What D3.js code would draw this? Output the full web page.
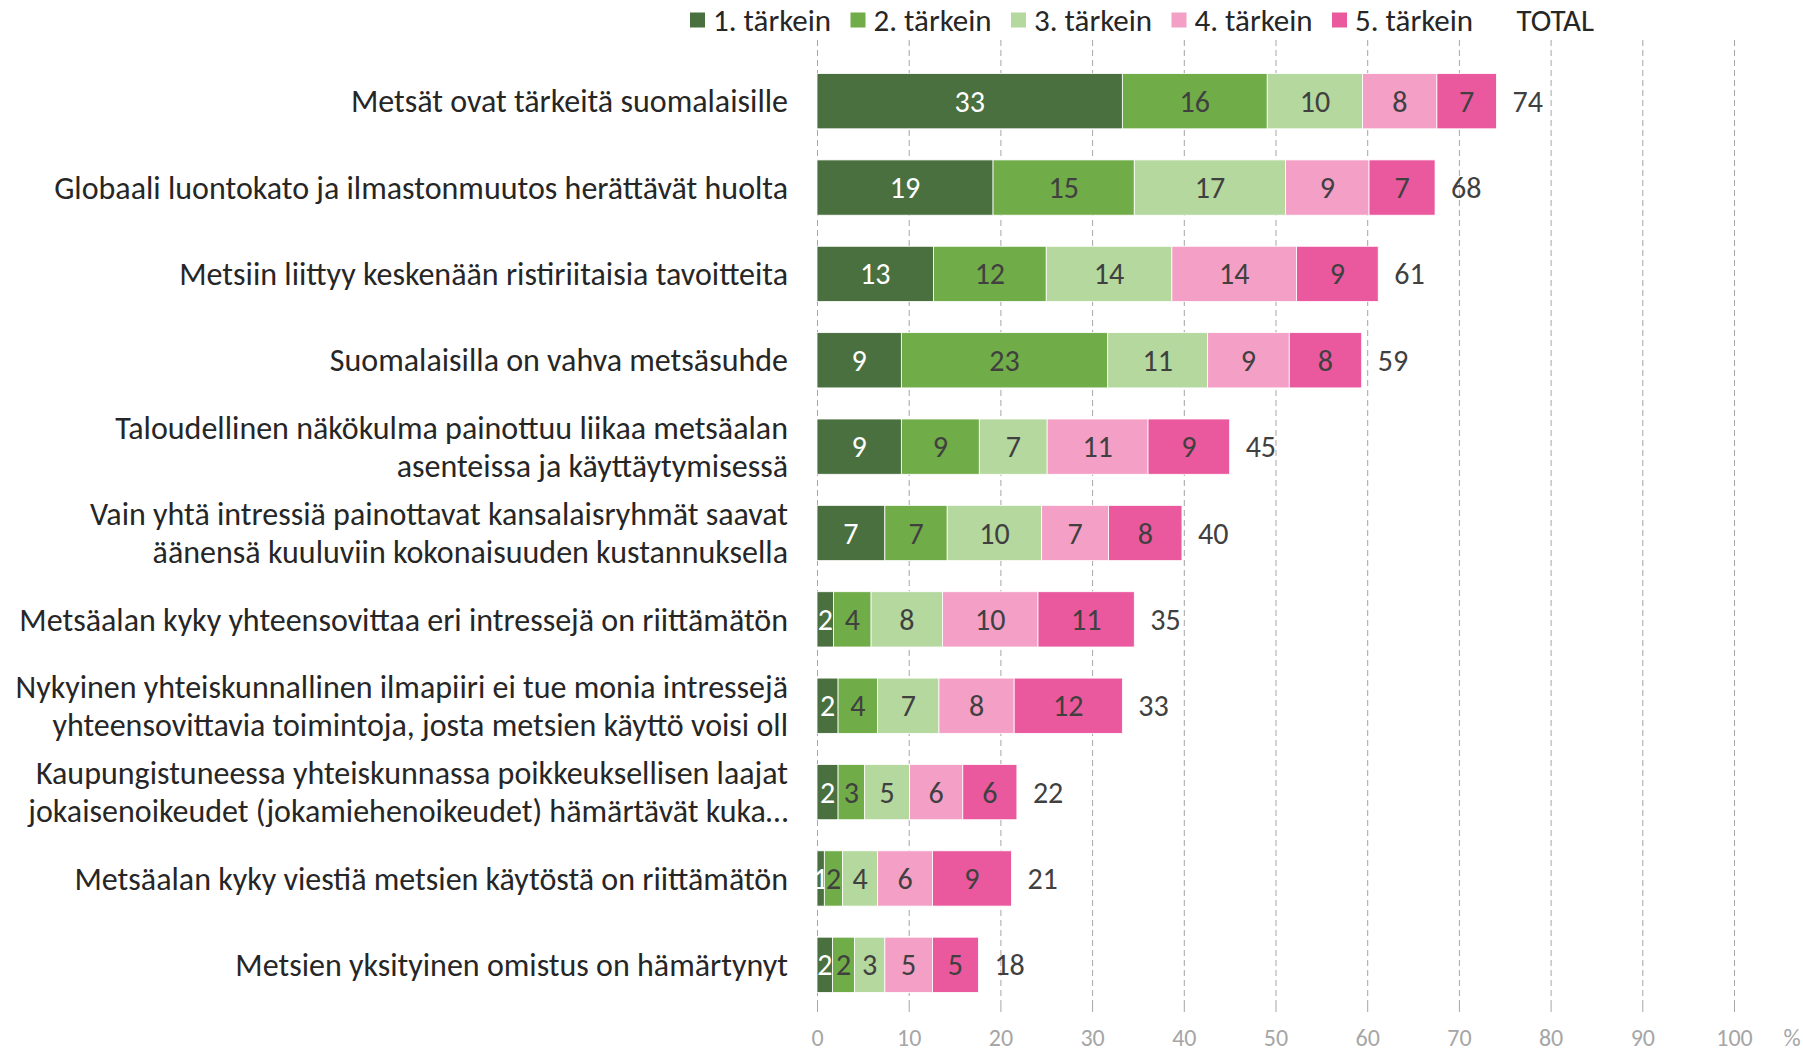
<!DOCTYPE html>
<html>
<head>
<meta charset="utf-8">
<script src="https://cdn.jsdelivr.net/npm/d3@7"></script>
<style>
  body { margin: 0; background: #fff; }
  svg { font-family: Calibri, Carlito, Lato, sans-serif; }
</style>
</head>
<body>
<div id="chart-area"></div>
<script>
// categories (line breaks as in the original)
var categories = [
  "Metsät ovat tärkeitä suomalaisille",
  "Globaali luontokato ja ilmastonmuutos herättävät huolta",
  "Metsiin liittyy keskenään ristiriitaisia tavoitteita",
  "Suomalaisilla on vahva metsäsuhde",
  "Taloudellinen näkökulma painottuu liikaa metsäalan\nasenteissa ja käyttäytymisessä",
  "Vain yhtä intressiä painottavat kansalaisryhmät saavat\näänensä kuuluviin kokonaisuuden kustannuksella",
  "Metsäalan kyky yhteensovittaa eri intressejä on riittämätön",
  "Nykyinen yhteiskunnallinen ilmapiiri ei tue monia intressejä\nyhteensovittavia toimintoja, josta metsien käyttö voisi oll",
  "Kaupungistuneessa yhteiskunnassa poikkeuksellisen laajat\njokaisenoikeudet (jokamiehenoikeudet) hämärtävät kuka…",
  "Metsäalan kyky viestiä metsien käytöstä on riittämätön",
  "Metsien yksityinen omistus on hämärtynyt"
];

var seriesNames = ["1. tärkein", "2. tärkein", "3. tärkein", "4. tärkein", "5. tärkein"];
var seriesColors = ["#4a7040", "#70ac47", "#b4d89e", "#f49fc6", "#ea589d"];

var s1 = [33.3, 19.2, 12.7, 9.2, 9.2, 7.4, 1.8, 2.3, 2.3, 0.8, 1.7];
var s2 = [15.8, 15.4, 12.3, 22.5, 8.5, 6.8, 4.1, 4.3, 2.9, 2.0, 2.4];
var s3 = [10.4, 16.5, 13.7, 10.9, 7.4, 10.3, 7.8, 6.7, 4.9, 3.8, 3.3];
var s4 = [8.1, 9.1, 13.6, 8.9, 11.0, 7.3, 10.4, 8.2, 5.8, 6.0, 5.2];
var s5 = [6.5, 7.2, 8.9, 7.9, 8.9, 8.0, 10.5, 11.8, 5.9, 8.6, 5.0];
var totals = [74, 68, 61, 59, 45, 40, 35, 33, 22, 21, 18];

var xTicks = [0, 10, 20, 30, 40, 50, 60, 70, 80, 90, 100];

var width = 1803, height = 1053;

var svg = d3.select("#chart-area")
  .append("svg")
    .attr("width", width)
    .attr("height", height);

var x = d3.scaleLinear().domain([0, 100]).range([817, 1734]);
var y = d3.scaleBand()
    .domain(categories)
    .range([58, 1008])
    .paddingInner(0.36)
    .paddingOuter(0.18);

// dashed gridlines
svg.append("g")
  .selectAll("line")
  .data(xTicks)
  .enter().append("line")
    .attr("x1", d => x(d) + 0.5)
    .attr("x2", d => x(d) + 0.5)
    .attr("y1", 40)
    .attr("y2", 1008)
    .attr("stroke", "#a6a6a6")
    .attr("stroke-width", 1)
    .attr("stroke-dasharray", "6,4");

// x axis (ticks + labels)
var xAxisCall = d3.axisBottom(x)
    .tickValues(xTicks)
    .tickSize(6)
    .tickPadding(17)
    .tickFormat(d3.format("d"));
var xAxis = svg.append("g")
    .attr("transform", "translate(0,1006)")
    .call(xAxisCall);
xAxis.select(".domain").remove();
xAxis.selectAll("line").attr("stroke", "#a6a6a6");
xAxis.selectAll("text")
    .attr("fill", "#a6a6a6")
    .attr("font-size", "24px")
    .attr("font-family", "Calibri, Carlito, Lato, sans-serif");
svg.append("text")
    .attr("x", x(100) + 58)
    .attr("y", 1046)
    .attr("fill", "#a6a6a6")
    .attr("font-size", "24px")
    .attr("text-anchor", "middle")
    .text("%");

// stacked bars
var seriesData = [s1, s2, s3, s4, s5];
var rows = categories.map((c, i) => {
  var r = { cat: c };
  seriesData.forEach((s, k) => { r["s" + k] = s[i]; });
  return r;
});
var stack = d3.stack().keys(seriesNames.map((d, k) => "s" + k));
var stacked = stack(rows);

var groups = svg.append("g")
  .selectAll("g")
  .data(stacked)
  .enter().append("g")
    .attr("fill", (d, k) => seriesColors[k]);

groups.selectAll("rect")
  .data(d => d)
  .enter().append("rect")
    .attr("x", d => x(d[0]))
    .attr("y", d => y(d.data.cat))
    .attr("width", d => x(d[1]) - x(d[0]))
    .attr("height", y.bandwidth())
    .attr("stroke", "#ffffff")
    .attr("stroke-width", 0.8);

// value labels inside segments
groups.each(function(ser, k) {
  d3.select(this).selectAll("text")
    .data(ser)
    .enter().append("text")
      .attr("x", d => (x(d[0]) + x(d[1])) / 2)
      .attr("y", d => y(d.data.cat) + y.bandwidth() / 2)
      .attr("dy", "0.35em")
      .attr("text-anchor", "middle")
      .attr("font-size", "30px")
      .attr("fill", k === 0 ? "#ffffff" : "#404040")
      .text(d => Math.round(d[1] - d[0]));
});

// totals
svg.append("g")
  .selectAll("text")
  .data(categories)
  .enter().append("text")
    .attr("x", (c, i) => x(stacked[4][i][1]) + 16)
    .attr("y", c => y(c) + y.bandwidth() / 2)
    .attr("dy", "0.35em")
    .attr("font-size", "30px")
    .attr("fill", "#404040")
    .text((c, i) => totals[i]);

// category labels
var catLabels = svg.append("g")
  .selectAll("text")
  .data(categories)
  .enter().append("text")
    .attr("text-anchor", "end")
    .attr("font-size", "32px")
    .attr("fill", "#262626")
    .attr("transform", c => "translate(788," + (y(c) + y.bandwidth() / 2) + ")");

catLabels.each(function(c) {
  var lines = c.split("\n");
  var el = d3.select(this);
  lines.forEach((ln, j) => {
    el.append("tspan")
      .attr("x", 0)
      .attr("y", (j - (lines.length - 1) / 2) * 38)
      .attr("dy", "0.35em")
      .text(ln);
  });
});

// legend
var legendStep = 160.5;
var legend = svg.append("g")
  .selectAll("g")
  .data(seriesNames.concat(["TOTAL"]))
  .enter().append("g")
    .attr("transform", (d, i) => "translate(" + (690 + i * legendStep) + ",20)");

legend.filter((d, i) => i < 5).append("rect")
    .attr("x", 0)
    .attr("y", -7.5)
    .attr("width", 15)
    .attr("height", 15)
    .attr("fill", (d, i) => seriesColors[i]);

legend.append("text")
    .attr("x", (d, i) => i < 5 ? 23 : 24)
    .attr("dy", "0.35em")
    .attr("font-size", "31px")
    .attr("fill", "#262626")
    .text(d => d);
</script>
</body>
</html>
